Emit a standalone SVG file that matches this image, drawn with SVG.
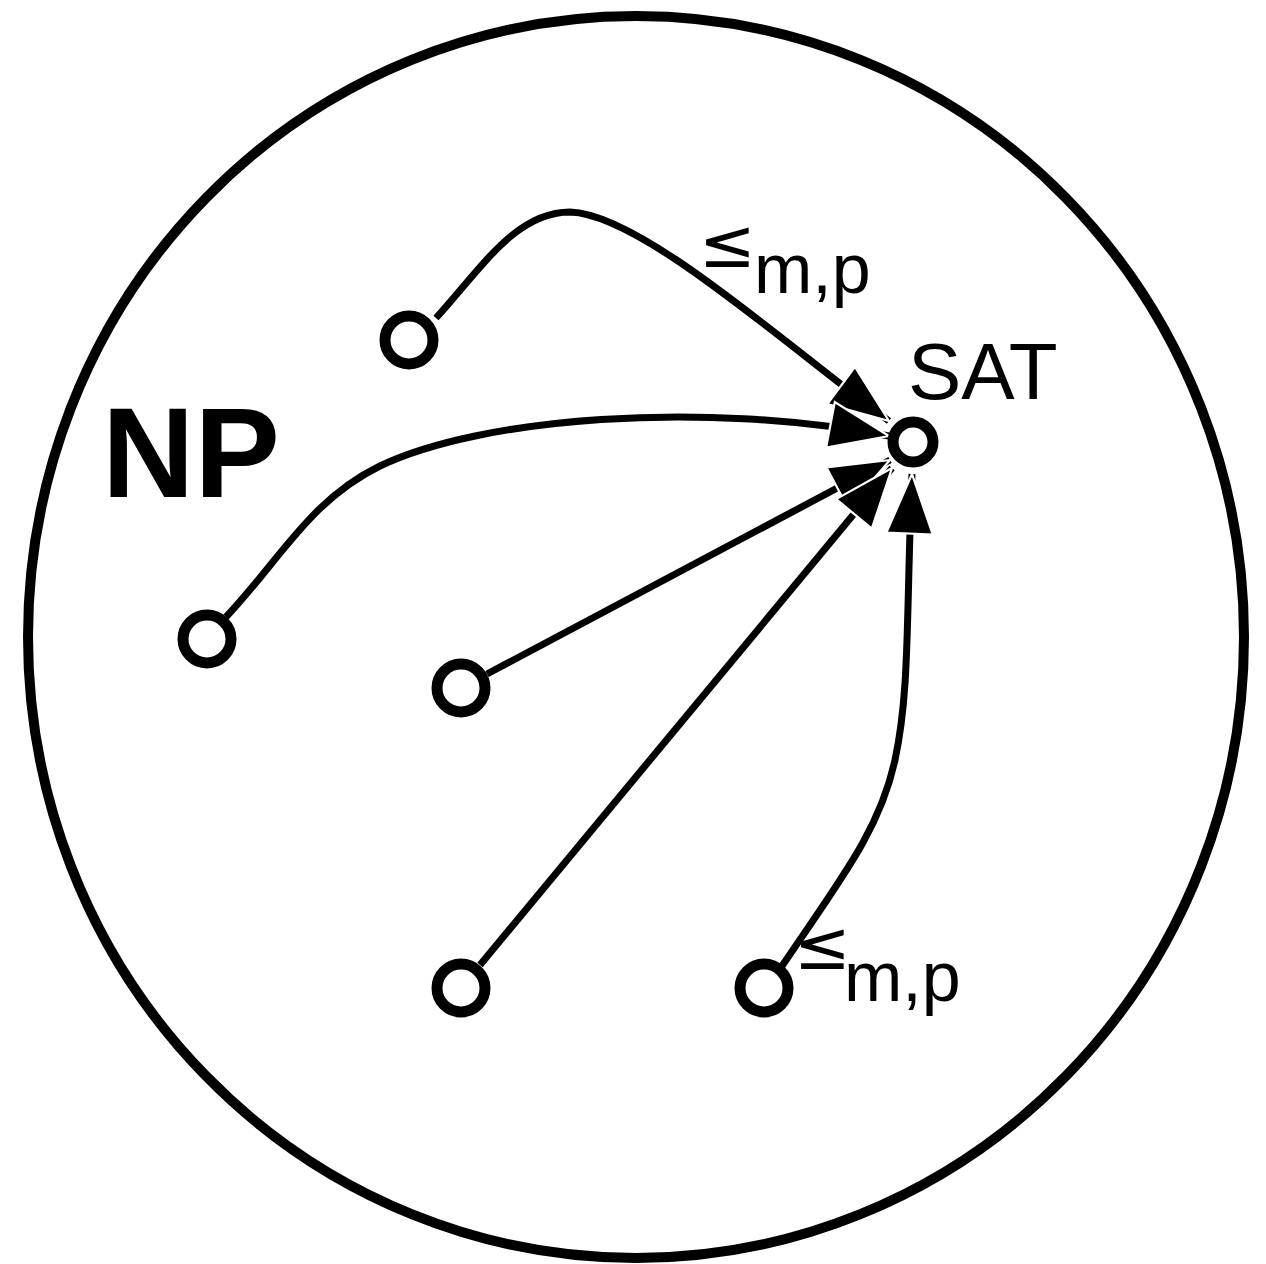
<svg xmlns="http://www.w3.org/2000/svg" width="1266" height="1264" viewBox="0 0 1266 1264">
<style>
.ring{fill:none;stroke:#000;stroke-width:10}
.node{fill:#fff;stroke:#000;stroke-width:11}
.edge{fill:none;stroke:#000;stroke-width:7}
.t{font-family:"Liberation Sans",Arial,sans-serif;fill:#000}
.le{font-family:"DejaVu Sans",sans-serif;fill:#000}
</style>
<defs>
<marker id="ah" markerUnits="userSpaceOnUse" markerWidth="64" markerHeight="54" viewBox="-56 -24 58 48" refX="0" refY="0" orient="auto">
<path d="M0,0 L-54,-21 L-54,21 Z" fill="#000" stroke="#fff" stroke-width="2"/>
</marker>
</defs>
<rect width="1266" height="1264" fill="#fff"/>
<g id="np-set">
<ellipse class="ring" cx="636" cy="637" rx="608" ry="621"/>
<text class="t" x="102" y="497" font-size="128" font-weight="bold">NP</text>
</g>
<g id="connectors">
<path class="edge" marker-end="url(#ah)" d="M436,318 C480,270 515,212 570,212 C640,214 780,340 889,421"/>
<path class="edge" marker-end="url(#ah)" d="M226,617 C280,560 310,500 380,466 C480,418 700,400 889,436"/>
<path class="edge" marker-end="url(#ah)" d="M487,674 L890,460"/>
<path class="edge" marker-end="url(#ah)" d="M480,965 L892,468"/>
<path class="edge" marker-end="url(#ah)" d="M782,966 C840,880 880,830 895,760 C910,690 906,620 912,474"/>
<text class="le" x="699" y="267" font-size="68">≤</text>
<text class="t" x="754" y="293" font-size="70">m,p</text>
<text class="le" x="794" y="969" font-size="68">≤</text>
<text class="t" x="844" y="1001" font-size="70">m,p</text>
</g>
<g id="sat">
<circle class="node" cx="913" cy="442" r="20" stroke-width="9"/>
<text class="t" x="908" y="399" font-size="80">SAT</text>
</g>
<g id="n1"><circle class="node" cx="409" cy="340" r="24"/></g>
<g id="n2"><circle class="node" cx="207" cy="639" r="24"/></g>
<g id="n3"><circle class="node" cx="461" cy="688" r="24"/></g>
<g id="n4"><circle class="node" cx="461" cy="988" r="24"/></g>
<g id="n5"><circle class="node" cx="764" cy="988" r="24"/></g>
</svg>
